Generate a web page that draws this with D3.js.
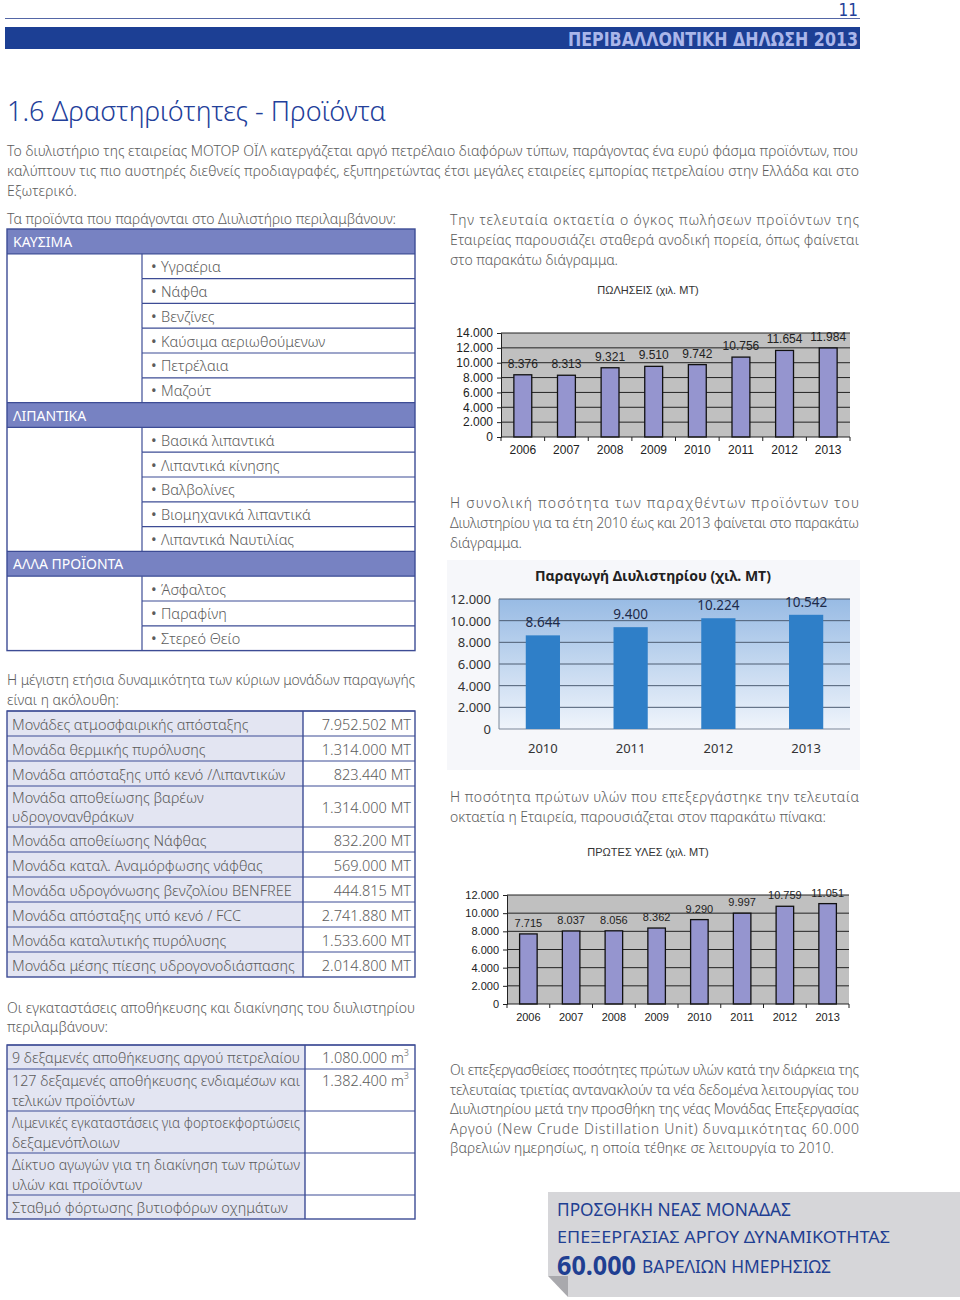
<!DOCTYPE html>
<html><head><meta charset="utf-8">
<script src="https://cdn.jsdelivr.net/npm/d3@7"></script>
<style>body{margin:0;background:#fff}svg{display:block}</style>
</head><body><svg id="page" width="960" height="1300"></svg>
<script>
// ---------------- DATA ----------------
const salesYears = ['2006','2007','2008','2009','2010','2011','2012','2013'];
const salesValues = [8376, 8313, 9321, 9510, 9742, 10756, 11654, 11984];
const salesTicks = [0, 2000, 4000, 6000, 8000, 10000, 12000, 14000];

const prodYears = ['2010','2011','2012','2013'];
const prodValues = [8644, 9400, 10224, 10542];
const prodTicks = [0, 2000, 4000, 6000, 8000, 10000, 12000];

const rawYears = ['2006','2007','2008','2009','2010','2011','2012','2013'];
const rawValues = [7715, 8037, 8056, 8362, 9290, 9997, 10759, 11051];
const rawTicks = [0, 2000, 4000, 6000, 8000, 10000, 12000];

const productGroups = ['ΚΑΥΣΙΜΑ', 'ΛΙΠΑΝΤΙΚΑ', 'ΑΛΛΑ ΠΡΟΪΟΝΤΑ'];
const fuelItems = ['Υγραέρια', 'Νάφθα', 'Βενζίνες', 'Καύσιμα αεριωθούμενων', 'Πετρέλαια', 'Μαζούτ'];
const lubeItems = ['Βασικά λιπαντικά', 'Λιπαντικά κίνησης', 'Βαλβολίνες', 'Βιομηχανικά λιπαντικά', 'Λιπαντικά Ναυτιλίας'];
const otherItems = ['Άσφαλτος', 'Παραφίνη', 'Στερεό Θείο'];

const capUnits = ['Μονάδες ατμοσφαιρικής απόσταξης', 'Μονάδα θερμικής πυρόλυσης', 'Μονάδα απόσταξης υπό κενό /Λιπαντικών',
  'Μονάδα αποθείωσης βαρέων|υδρογονανθράκων', 'Μονάδα αποθείωσης Νάφθας', 'Μονάδα καταλ. Αναμόρφωσης νάφθας',
  'Μονάδα υδρογόνωσης βενζολίου BENFREE', 'Μονάδα απόσταξης υπό κενό / FCC', 'Μονάδα καταλυτικής πυρόλυσης',
  'Μονάδα μέσης πίεσης υδρογονοδιάσπασης'];
const capValues = [7952502, 1314000, 823440, 1314000, 832200, 569000, 444815, 2741880, 1533600, 2014800];

const storageItems = ['9 δεξαμενές αποθήκευσης αργού πετρελαίου', '127 δεξαμενές αποθήκευσης ενδιαμέσων και|τελικών προϊόντων',
  'Λιμενικές εγκαταστάσεις για φορτοεκφορτώσεις|δεξαμενόπλοιων', 'Δίκτυο αγωγών για τη διακίνηση των πρώτων|υλών και προϊόντων',
  'Σταθμό φόρτωσης βυτιοφόρων οχημάτων'];
const storageValues = [1080000, 1382400, null, null, null];

// ---------------- SETUP ----------------
const svg = d3.select('#page');
const loc = d3.formatLocale({decimal: ',', thousands: '.', grouping: [3], currency: ['', '']});
const fmt = loc.format(',d');
const BODY = "'Noto Sans', 'Open Sans', sans-serif";
const NARROW = "'Liberation Sans Narrow', 'DejaVu Sans Condensed', sans-serif";
const ARIAL = "'Liberation Sans', Arial, sans-serif";
const GREY = '#5c5c5c';
const NAVY = '#23409a';

function T(g, x, y, s, o = {}) {
  const t = g.append('text').attr('x', x).attr('y', y).text(s)
    .attr('font-family', o.family || BODY).attr('font-size', o.size || 14)
    .attr('fill', o.fill || GREY).attr('text-anchor', o.anchor || 'start')
    .attr('dominant-baseline', 'central');
  t.attr('font-weight', o.weight || 300);
  if (o.len) t.attr('textLength', o.len).attr('lengthAdjust', o.adj || 'spacingAndGlyphs');
  if (o.max) {
    const w = t.node().getComputedTextLength();
    if (w > o.max) t.attr('textLength', o.max).attr('lengthAdjust', 'spacingAndGlyphs');
  }
  return t;
}

// ---------------- HEADER ----------------
T(svg, 858, 10, '11', {family: NARROW, size: 17, fill: NAVY, anchor: 'end'});
svg.append('line').attr('x1', 5).attr('x2', 860).attr('y1', 18.5).attr('y2', 18.5).attr('stroke', '#5466a6').attr('stroke-width', 1);
svg.append('rect').attr('x', 5).attr('y', 27).attr('width', 855).attr('height', 22).attr('fill', '#1c3f94');
T(svg, 858, 38.5, 'ΠΕΡΙΒΑΛΛΟΝΤΙΚΗ ΔΗΛΩΣΗ 2013', {family: NARROW, size: 20, weight: 700, fill: '#aab6ea', anchor: 'end', len: 290});

T(svg, 7, 110, '1.6 Δραστηριότητες - Προϊόντα', {size: 28, fill: NAVY, len: 379});

const para = [
  ['Το διυλιστήριο της εταιρείας ΜΟΤΟΡ ΟΪΛ κατεργάζεται αργό πετρέλαιο διαφόρων τύπων, παράγοντας ένα ευρύ φάσμα προϊόντων, που', 7, 150, 851],
  ['καλύπτουν τις πιο αυστηρές διεθνείς προδιαγραφές, εξυπηρετώντας έτσι μεγάλες εταιρείες εμπορίας πετρελαίου στην Ελλάδα και στο', 7, 170, 852],
  ['Εξωτερικό.', 7, 190, 70],
  ['Τα προϊόντα που παράγονται στο Διυλιστήριο περιλαμβάνουν:', 7, 218, 389],
  ['Η μέγιστη ετήσια δυναμικότητα των κύριων μονάδων παραγωγής', 7, 679, 408],
  ['είναι η ακόλουθη:', 7, 699, 112],
  ['Οι εγκαταστάσεις αποθήκευσης και διακίνησης του διυλιστηρίου', 7, 1007, 408],
  ['περιλαμβάνουν:', 7, 1026, 101],
  ['Την τελευταία οκταετία ο όγκος πωλήσεων προϊόντων της', 450, 219, 409],
  ['Εταιρείας παρουσιάζει σταθερά ανοδική πορεία, όπως φαίνεται', 450, 239, 409],
  ['στο παρακάτω διάγραμμα.', 450, 259, 168],
  ['Η συνολική ποσότητα των παραχθέντων προϊόντων του', 450, 502, 409],
  ['Διυλιστηρίου για τα έτη 2010 έως και 2013 φαίνεται στο παρακάτω', 450, 522, 409],
  ['διάγραμμα.', 450, 542, 72],
  ['Η ποσότητα πρώτων υλών που επεξεργάστηκε την τελευταία', 450, 796, 409],
  ['οκταετία η Εταιρεία, παρουσιάζεται στον παρακάτω πίνακα:', 450, 816, 376],
  ['Οι επεξεργασθείσες ποσότητες πρώτων υλών κατά την διάρκεια της', 450, 1069, 409],
  ['τελευταίας τριετίας αντανακλούν τα νέα δεδομένα λειτουργίας του', 450, 1089, 409],
  ['Διυλιστηρίου μετά την προσθήκη της νέας Μονάδας Επεξεργασίας', 450, 1108, 409],
  ['Αργού (New Crude Distillation Unit) δυναμικότητας 60.000', 450, 1128, 409],
  ['βαρελιών ημερησίως, η οποία τέθηκε σε λειτουργία το 2010.', 450, 1147, 384]
];
para.forEach(p => T(svg, p[1], p[2], p[0], {size: 14, len: p[3], adj: 'spacing'}));

// ---------------- PRODUCTS TABLE ----------------
(function () {
  const g = svg.append('g');
  const rows = [];
  [fuelItems, lubeItems, otherItems].forEach((items, i) => {
    rows.push({head: true, text: productGroups[i]});
    items.forEach(t => rows.push({head: false, text: t}));
  });
  const top = 229, rh = 24.8, x0 = 7, x1 = 142, x2 = 415, stroke = '#3d4c95';
  rows.forEach((r, i) => {
    const y = top + i * rh;
    if (r.head) {
      g.append('rect').attr('x', x0).attr('y', y).attr('width', x2 - x0).attr('height', rh).attr('fill', '#7782c2');
      T(g, x0 + 6, y + rh / 2, r.text, {size: 14, fill: '#fff', weight: 400});
    } else {
      T(g, 151, y + rh / 2, '•', {size: 15, weight: 400});
      T(g, 161, y + rh / 2, r.text, {size: 14.5});
      g.append('line').attr('x1', x1).attr('x2', x1).attr('y1', y).attr('y2', y + rh).attr('stroke', stroke).attr('stroke-width', 1.2);
    }
    if (i > 0) {
      const full = r.head || rows[i - 1].head;
      g.append('line').attr('x1', full ? x0 : x1).attr('x2', x2).attr('y1', y).attr('y2', y).attr('stroke', stroke).attr('stroke-width', 1.2);
    }
  });
  g.append('rect').attr('x', x0).attr('y', top).attr('width', x2 - x0).attr('height', rows.length * rh)
    .attr('fill', 'none').attr('stroke', stroke).attr('stroke-width', 1.4);
})();

// ---------------- GENERIC TWO-COLUMN TABLE ----------------
function twoColTable(labels, values, top, h1, h2, xDiv, valFmt) {
  const g = svg.append('g');
  const x0 = 7, x2 = 415, stroke = '#3d4c95';
  let y = top;
  labels.forEach((lab, i) => {
    const lines = lab.split('|');
    const h = lines.length > 1 ? h2 : h1;
    g.append('rect').attr('x', x0).attr('y', y).attr('width', xDiv - x0).attr('height', h).attr('fill', '#e3e5f2');
    g.append('rect').attr('x', xDiv).attr('y', y).attr('width', x2 - xDiv).attr('height', h).attr('fill', '#fff');
    const lh = 19.5;
    const c0 = y + h / 2 - (lines.length - 1) * lh / 2;
    lines.forEach((l, k) => T(g, 12, c0 + k * lh, l, {size: 14.5, max: xDiv - 17}));
    if (values[i] != null) valFmt(g, values[i], lines.length > 1 ? (valFmt.top ? c0 : y + h / 2) : y + h / 2);
    g.append('line').attr('x1', x0).attr('x2', x2).attr('y1', y).attr('y2', y).attr('stroke', stroke).attr('stroke-width', 1.2);
    y += h;
  });
  g.append('line').attr('x1', xDiv).attr('x2', xDiv).attr('y1', top).attr('y2', y).attr('stroke', stroke).attr('stroke-width', 1.4);
  g.append('rect').attr('x', x0).attr('y', top).attr('width', x2 - x0).attr('height', y - top)
    .attr('fill', 'none').attr('stroke', stroke).attr('stroke-width', 1.4);
}

const capFmt = (g, v, cy) => T(g, 411, cy, fmt(v) + ' MT', {size: 14.5, anchor: 'end'});
twoColTable(capUnits, capValues, 711, 25, 41, 303, capFmt);

const stoFmt = (g, v, cy) => {
  const t = T(g, 409, cy, fmt(v) + ' m', {size: 14.5, anchor: 'end'});
  t.append('tspan').text('3').attr('font-size', 9).attr('dy', -5);
};
stoFmt.top = true;
twoColTable(storageItems, storageValues, 1045, 24, 42, 305, stoFmt);

// ---------------- CLASSIC BAR CHART (charts 1 & 3) ----------------
function classicChart(cfg) {
  const g = svg.append('g');
  const x = d3.scaleBand().domain(cfg.years).range([cfg.left, cfg.right]).paddingInner(0.59).paddingOuter(0.295);
  const y = d3.scaleLinear().domain([0, cfg.max]).range([cfg.bottom, cfg.top]);
  T(g, cfg.titleX, cfg.titleY, cfg.title, {family: ARIAL, size: 11, fill: '#333', weight: 400, anchor: 'middle'});
  g.append('rect').attr('x', cfg.left).attr('y', cfg.top).attr('width', cfg.right - cfg.left).attr('height', cfg.bottom - cfg.top).attr('fill', '#c0c0c0');
  g.selectAll('.grid').data(cfg.ticks.filter(d => d > 0)).join('line')
    .attr('x1', cfg.left).attr('x2', cfg.right).attr('y1', d => y(d)).attr('y2', d => y(d))
    .attr('stroke', '#222').attr('stroke-width', 1);
  const ya = g.append('g').attr('transform', `translate(${cfg.left},0)`)
    .call(d3.axisLeft(y).tickValues(cfg.ticks).tickFormat(fmt).tickSize(4).tickPadding(4));
  ya.select('.domain').attr('stroke', '#222');
  ya.selectAll('line').attr('stroke', '#222');
  ya.selectAll('text').attr('font-family', ARIAL).attr('font-size', cfg.fs).attr('fill', '#222');
  g.selectAll('.bar').data(cfg.values).join('rect')
    .attr('x', (d, i) => x(cfg.years[i])).attr('width', x.bandwidth())
    .attr('y', d => y(d)).attr('height', d => cfg.bottom - y(d))
    .attr('fill', '#9595cf').attr('stroke', '#111').attr('stroke-width', 1.3);
  g.selectAll('.val').data(cfg.values).join('text')
    .attr('x', (d, i) => x(cfg.years[i]) + x.bandwidth() / 2).attr('y', d => y(d) - 7)
    .attr('text-anchor', 'middle').attr('font-family', ARIAL).attr('font-size', cfg.fs).attr('fill', '#222')
    .text(d => fmt(d));
  g.append('line').attr('x1', cfg.left).attr('x2', cfg.right).attr('y1', cfg.bottom).attr('y2', cfg.bottom).attr('stroke', '#222');
  const bounds = d3.range(cfg.years.length + 1).map(i => cfg.left + i * x.step());
  g.selectAll('.xt').data(bounds).join('line').attr('x1', d => d).attr('x2', d => d)
    .attr('y1', cfg.bottom).attr('y2', cfg.bottom + 4).attr('stroke', '#222');
  g.selectAll('.yl').data(cfg.years).join('text')
    .attr('x', d => x(d) + x.bandwidth() / 2).attr('y', cfg.bottom + 13).attr('dominant-baseline', 'central')
    .attr('text-anchor', 'middle').attr('font-family', ARIAL).attr('font-size', cfg.fs).attr('fill', '#222').text(d => d);
}

classicChart({years: salesYears, values: salesValues, ticks: salesTicks, max: 14000,
  left: 501, right: 850, top: 333, bottom: 437, title: 'ΠΩΛΗΣΕΙΣ (χιλ. ΜΤ)', titleX: 648, titleY: 290, fs: 12});
classicChart({years: rawYears, values: rawValues, ticks: rawTicks, max: 12000,
  left: 507, right: 849, top: 895, bottom: 1004, title: 'ΠΡΩΤΕΣ ΥΛΕΣ (χιλ. ΜΤ)', titleX: 648, titleY: 852, fs: 11});

// ---------------- MODERN CHART (chart 2) ----------------
(function () {
  const g = svg.append('g');
  const left = 499, right = 850, top = 599, bottom = 729;
  const defs = svg.append('defs');
  const grad = defs.append('linearGradient').attr('id', 'pg').attr('x1', 0).attr('x2', 0).attr('y1', 0).attr('y2', 1);
  grad.append('stop').attr('offset', 0).attr('stop-color', '#98bbe4');
  grad.append('stop').attr('offset', 1).attr('stop-color', '#eff4fb');
  g.append('rect').attr('x', 447).attr('y', 560).attr('width', 413).attr('height', 210).attr('fill', '#f6f7fa');
  const x = d3.scaleBand().domain(prodYears).range([left, right]).paddingInner(0.61).paddingOuter(0.305);
  const y = d3.scaleLinear().domain([0, 12000]).range([bottom, top]);
  T(g, 653, 575, 'Παραγωγή Διυλιστηρίου (χιλ. ΜΤ)', {size: 14, weight: 700, fill: '#222', anchor: 'middle'});
  g.append('rect').attr('x', left).attr('y', top).attr('width', right - left).attr('height', bottom - top).attr('fill', 'url(#pg)');
  g.selectAll('.grid').data(prodTicks.filter(d => d > 0)).join('line')
    .attr('x1', left).attr('x2', right).attr('y1', d => y(d)).attr('y2', d => y(d))
    .attr('stroke', '#4d5d73').attr('stroke-width', 1);
  g.append('line').attr('x1', left).attr('x2', left).attr('y1', top).attr('y2', bottom).attr('stroke', '#7a8799');
  g.append('line').attr('x1', left).attr('x2', right).attr('y1', bottom).attr('y2', bottom).attr('stroke', '#7a8799');
  g.selectAll('.tl').data(prodTicks).join('text')
    .attr('x', 491).attr('y', d => y(d)).attr('dominant-baseline', 'central').attr('text-anchor', 'end')
    .attr('font-family', BODY).attr('font-size', 13).attr('fill', '#333').text(d => fmt(d));
  g.selectAll('.bar').data(prodValues).join('rect')
    .attr('x', (d, i) => x(prodYears[i])).attr('width', x.bandwidth())
    .attr('y', d => y(d)).attr('height', d => bottom - y(d)).attr('fill', '#2f7fc8');
  g.selectAll('.val').data(prodValues).join('text')
    .attr('x', (d, i) => x(prodYears[i]) + x.bandwidth() / 2).attr('y', d => y(d) - 13).attr('dominant-baseline', 'central')
    .attr('text-anchor', 'middle').attr('font-family', BODY).attr('font-size', 13.5).attr('fill', '#1e2b4a').text(d => fmt(d));
  g.selectAll('.yl').data(prodYears).join('text')
    .attr('x', d => x(d) + x.bandwidth() / 2).attr('y', 748).attr('dominant-baseline', 'central')
    .attr('text-anchor', 'middle').attr('font-family', BODY).attr('font-size', 13).attr('fill', '#333').text(d => d);
})();

// ---------------- CALLOUT BOX ----------------
(function () {
  const g = svg.append('g');
  g.append('path').attr('d', 'M548,1192 L960,1192 L960,1297 L568,1297 L568,1276 L548,1276 Z').attr('fill', '#d6d6d9');
  g.append('path').attr('d', 'M548,1276 L568,1276 L568,1297 Z').attr('fill', '#a9a9ad');
  T(g, 557, 1209, 'ΠΡΟΣΘΗΚΗ ΝΕΑΣ ΜΟΝΑΔΑΣ', {size: 18, fill: '#1f3f92', weight: 400, len: 234});
  T(g, 557, 1236, 'ΕΠΕΞΕΡΓΑΣΙΑΣ ΑΡΓΟΥ ΔΥΝΑΜΙΚΟΤΗΤΑΣ', {size: 17, fill: '#1f3f92', weight: 400, len: 333});
  T(g, 557, 1265, '60.000', {size: 26, fill: '#1f3f92', weight: 700, len: 79});
  T(g, 642, 1266, 'ΒΑΡΕΛΙΩΝ ΗΜΕΡΗΣΙΩΣ', {size: 18, fill: '#1f3f92', weight: 400, len: 189});
})();
</script></body></html>
